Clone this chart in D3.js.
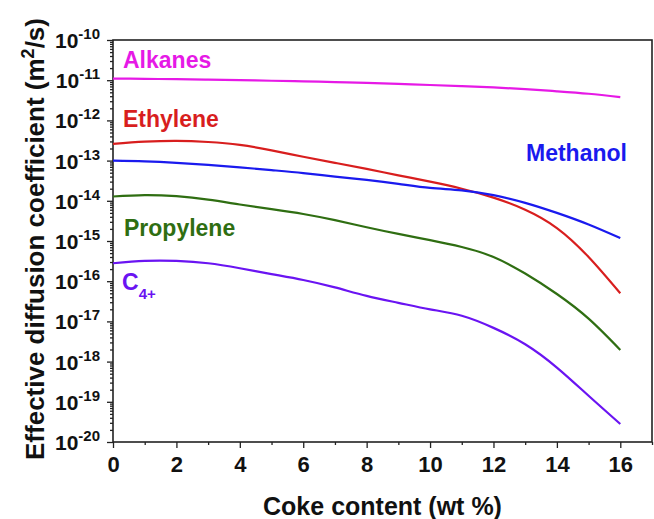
<!DOCTYPE html>
<html>
<head>
<meta charset="utf-8">
<script src="https://cdn.jsdelivr.net/npm/d3@7"></script>
<style>
  body { margin: 0; background: #fff; }
  svg { display: block; font-family: "Liberation Sans", Arial, sans-serif; font-weight: bold; }
</style>
</head>
<body>
<div id="chart"></div>
<script>
// values, coke content in wt %
const cokeContent = [0, 1, 2, 3, 4, 5, 6, 7, 8, 9, 10, 11, 12, 13, 14, 15, 16]
const alkanes   = [1.1e-11, 1.08e-11, 1.06e-11, 1.03e-11, 1.0e-11, 9.7e-12, 9.4e-12, 9.0e-12, 8.6e-12, 8.1e-12, 7.6e-12, 7.1e-12, 6.6e-12, 6.0e-12, 5.3e-12, 4.6e-12, 3.8e-12]
const ethylene  = [2.6e-13, 2.95e-13, 3.1e-13, 2.9e-13, 2.45e-13, 1.8e-13, 1.25e-13, 8.8e-14, 6.2e-14, 4.3e-14, 3.0e-14, 2.0e-14, 1.2e-14, 6.0e-15, 2.1e-15, 4.0e-16, 5e-17]
const methanol  = [1.0e-13, 9.6e-14, 8.8e-14, 7.8e-14, 6.8e-14, 5.8e-14, 4.9e-14, 4.0e-14, 3.3e-14, 2.65e-14, 2.1e-14, 1.82e-14, 1.38e-14, 8.9e-15, 5.0e-15, 2.57e-15, 1.18e-15]
const propylene = [1.28e-14, 1.39e-14, 1.3e-14, 1.07e-14, 8.1e-15, 6.2e-15, 4.7e-15, 3.3e-15, 2.2e-15, 1.5e-15, 1.05e-15, 7.1e-16, 4.0e-16, 1.55e-16, 4.8e-17, 1.17e-17, 1.95e-18]
const c4plus    = [2.8e-16, 3.2e-16, 3.2e-16, 2.8e-16, 2.1e-16, 1.5e-16, 1.07e-16, 7.0e-17, 4.3e-17, 2.9e-17, 2.0e-17, 1.38e-17, 6.9e-18, 2.7e-18, 7.1e-19, 1.41e-19, 2.8e-20]

const xTicks = [0, 2, 4, 6, 8, 10, 12, 14, 16]
const xMinorTicks = [1, 3, 5, 7, 9, 11, 13, 15, 17]
const yExponents = [-10, -11, -12, -13, -14, -15, -16, -17, -18, -19, -20]

const series = [
  { name: 'Alkanes', values: alkanes, color: '#e619e6', lx: 123, ly: 68 },
  { name: 'Ethylene', values: ethylene, color: '#d81e1e', lx: 123, ly: 127 },
  { name: 'Methanol', values: methanol, color: '#1a1aee', lx: 526, ly: 161 },
  { name: 'Propylene', values: propylene, color: '#2f6e12', lx: 124, ly: 236 },
  { name: 'C', sub: '4+', values: c4plus, color: '#6a14f2', lx: 122, ly: 290 }
]

const width = 654, height = 519
const margin = { top: 40, right: 2, bottom: 77, left: 113 }

const svg = d3.select('#chart').append('svg')
  .attr('width', width)
  .attr('height', height)

const x = d3.scaleLinear().domain([0, 17]).range([margin.left, width - margin.right])
const y = d3.scaleLog().domain([1e-20, 1e-10]).range([height - margin.bottom, margin.top])

const yMajors = yExponents.map(e => Math.pow(10, e))
const yMinors = []
yExponents.slice(0, -1).forEach(e => {
  for (let k = 2; k <= 9; k++) yMinors.push(k * Math.pow(10, e - 1))
})

// axes (ticks only, labels drawn by hand for the superscripts)
svg.append('g')
  .attr('transform', `translate(${margin.left},0)`)
  .call(d3.axisLeft(y).tickValues(yMinors).tickSize(3).tickFormat(''))
  .call(g => g.select('.domain').remove())
svg.append('g')
  .attr('transform', `translate(${margin.left},0)`)
  .call(d3.axisLeft(y).tickValues(yMajors).tickSize(6).tickFormat(''))
  .call(g => g.select('.domain').remove())

svg.append('g')
  .attr('transform', `translate(0,${height - margin.bottom})`)
  .call(d3.axisBottom(x).tickValues(xMinorTicks).tickSize(3).tickFormat(''))
  .call(g => g.select('.domain').remove())
svg.append('g')
  .attr('transform', `translate(0,${height - margin.bottom})`)
  .call(d3.axisBottom(x).tickValues(xTicks).tickSize(6).tickPadding(8).tickFormat(d3.format('d')))
  .call(g => g.select('.domain').remove())
  .call(g => g.selectAll('text').attr('font-size', 22).attr('font-weight', 'bold')
    .attr('font-family', '"Liberation Sans", Arial, sans-serif').attr('fill', '#111'))

svg.selectAll('.tick line').attr('stroke', '#222').attr('stroke-width', 1.3)

// y tick labels 10^n
const ylab = svg.append('g').selectAll('text')
  .data(yExponents)
  .join('text')
  .attr('x', margin.left - 13)
  .attr('y', d => y(Math.pow(10, d)) + 8)
  .attr('text-anchor', 'end')
  .attr('fill', '#111')
ylab.append('tspan').attr('font-size', 21).text('10')
ylab.append('tspan').attr('font-size', 15).attr('dy', -9).text(d => '-' + Math.abs(d))

// frame
svg.append('rect')
  .attr('x', margin.left)
  .attr('y', margin.top)
  .attr('width', width - margin.right - margin.left)
  .attr('height', height - margin.bottom - margin.top)
  .attr('fill', 'none')
  .attr('stroke', '#222')
  .attr('stroke-width', 1.6)

// curves
const line = d3.line()
  .x((d, i) => x(cokeContent[i]))
  .y(d => y(d))
  .curve(d3.curveNatural)

svg.append('g').selectAll('path')
  .data(series)
  .join('path')
  .attr('d', d => line(d.values))
  .attr('fill', 'none')
  .attr('stroke', d => d.color)
  .attr('stroke-width', 2.2)

// series labels
const lab = svg.append('g').selectAll('text')
  .data(series)
  .join('text')
  .attr('x', d => d.lx)
  .attr('y', d => d.ly)
  .attr('fill', d => d.color)
  .attr('font-size', 23)
lab.append('tspan').text(d => d.name)
lab.filter(d => d.sub).append('tspan')
  .attr('font-size', 15).attr('dy', 9).text(d => d.sub)

// axis titles
svg.append('text')
  .attr('x', (margin.left + width - margin.right) / 2)
  .attr('y', 515)
  .attr('text-anchor', 'middle')
  .attr('font-size', 25)
  .attr('fill', '#111')
  .text('Coke content (wt %)')

const yt = svg.append('text')
  .attr('transform', 'translate(44,239) rotate(-90)')
  .attr('text-anchor', 'middle')
  .attr('font-size', 26)
  .attr('fill', '#111')
yt.append('tspan').text('Effective diffusion coefficient (m')
yt.append('tspan').attr('font-size', 18).attr('dy', -10).text('2')
yt.append('tspan').attr('dy', 10).text('/s)')
</script>
</body>
</html>
